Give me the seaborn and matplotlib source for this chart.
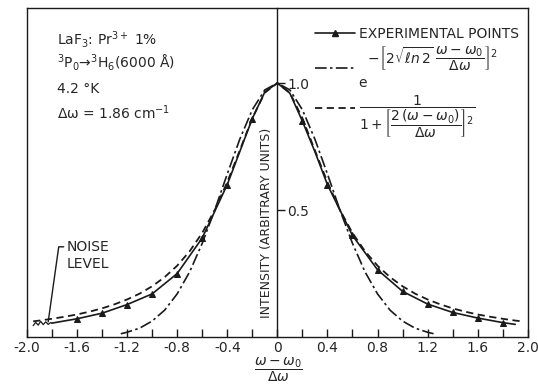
import matplotlib
matplotlib.use("Agg")
import matplotlib.pyplot as plt
from matplotlib.lines import Line2D
import seaborn as sns

# Datos
exp_x = [-1.8, -1.6, -1.4, -1.2, -1.0, -0.8, -0.6, -0.4, -0.3, -0.2, -0.1, 0.0,
         0.1, 0.2, 0.3, 0.4, 0.6, 0.8, 1.0, 1.2, 1.4, 1.6, 1.8, 1.9]
exp_y = [0.055, 0.072, 0.094, 0.128, 0.17, 0.25, 0.39, 0.60, 0.73, 0.86, 0.965, 1.0,
         0.96, 0.85, 0.73, 0.60, 0.40, 0.265, 0.18, 0.13, 0.097, 0.075, 0.057, 0.05]
exp_marks = [1, 2, 3, 4, 5, 6, 7, 9, 13, 15, 16, 17, 18, 19, 20, 21, 22]

gauss_x = [-1.25, -1.2, -1.1, -1.0, -0.9, -0.8, -0.7, -0.6, -0.5, -0.4, -0.3, -0.2, -0.1, 0.0,
           0.1, 0.2, 0.3, 0.4, 0.5, 0.6, 0.7, 0.8, 0.9, 1.0, 1.1, 1.2, 1.25]
gauss_y = [0.013, 0.019, 0.035, 0.063, 0.106, 0.170, 0.257, 0.369, 0.500, 0.642, 0.779, 0.895, 0.973, 1.0,
           0.973, 0.895, 0.779, 0.642, 0.500, 0.369, 0.257, 0.170, 0.106, 0.063, 0.035, 0.019, 0.013]

lor_x = [-1.95, -1.9, -1.8, -1.7, -1.6, -1.5, -1.4, -1.3, -1.2, -1.1, -1.0, -0.9, -0.8, -0.7, -0.6,
         -0.5, -0.4, -0.3, -0.2, -0.1, 0.0, 0.1, 0.2, 0.3, 0.4, 0.5, 0.6, 0.7, 0.8, 0.9, 1.0,
         1.1, 1.2, 1.3, 1.4, 1.5, 1.6, 1.7, 1.8, 1.9, 1.95]
lor_y = [0.062, 0.065, 0.072, 0.080, 0.089, 0.100, 0.113, 0.129, 0.148, 0.171, 0.200, 0.236, 0.281, 0.338, 0.410,
         0.500, 0.610, 0.735, 0.862, 0.962, 1.0, 0.962, 0.862, 0.735, 0.610, 0.500, 0.410, 0.338, 0.281, 0.236, 0.200,
         0.171, 0.148, 0.129, 0.113, 0.100, 0.089, 0.080, 0.072, 0.065, 0.062]

noise_x = [-1.95, -1.93, -1.91, -1.89, -1.87, -1.85, -1.83, -1.81, -1.8]
noise_y = [0.045, 0.058, 0.047, 0.062, 0.049, 0.060, 0.050, 0.057, 0.055]

xtick_vals = [-2.0, -1.8, -1.6, -1.4, -1.2, -1.0, -0.8, -0.6, -0.4, -0.2, 0.0,
              0.2, 0.4, 0.6, 0.8, 1.0, 1.2, 1.4, 1.6, 1.8, 2.0]
xtick_labels = ["-2.0", "", "-1.6", "", "-1.2", "", "-0.8", "", "-0.4", "", "0",
                "", "0.4", "", "0.8", "", "1.2", "", "1.6", "", "2.0"]

# Estilo
sns.set_theme(style="white")
plt.rcParams["font.family"] = ["DejaVu Sans"]
plt.rcParams["mathtext.fontset"] = "dejavusans"

fig = plt.figure(figsize=(5.38, 3.87), dpi=100)
ax = fig.add_axes([0.050, 0.129, 0.931, 0.850])

# Curvas
sns.lineplot(x=lor_x, y=lor_y, color="k", lw=1.3, linestyle=(0, (4, 2.5)), ax=ax)
sns.lineplot(x=gauss_x, y=gauss_y, color="k", lw=1.2, linestyle=(0, (7, 2, 1.5, 2)), ax=ax)
sns.lineplot(x=exp_x, y=exp_y, color="k", lw=1.2, marker="^", markersize=5,
             mec="k", mfc="k", markevery=exp_marks, ax=ax)
sns.lineplot(x=noise_x, y=noise_y, color="k", lw=0.9, sort=False, ax=ax)

ax.set_xlim(-2.0, 2.0)
ax.set_ylim(0, 1.295)

# Ejes y marcas
for s in ax.spines.values():
    s.set_visible(True)
    s.set_color("k")
    s.set_linewidth(1.0)
ax.set_xticks(xtick_vals)
ax.set_xticklabels(xtick_labels, fontsize=10)
ax.tick_params(axis="x", direction="in", length=6, width=1, color="k", pad=3, bottom=True)
ax.set_yticks([])
ax.set_xlabel("")
ax.set_ylabel("")

# Eje vertical central
sec = ax.secondary_yaxis(0.5)
sec.set_yticks([0.5, 1.0])
sec.set_yticklabels(["0.5", "1.0"], fontsize=10)
sec.tick_params(direction="out", length=6, width=1, color="k", pad=1)
sec.spines["right"].set_linewidth(1.0)
sec.spines["right"].set_color("k")
ax.text(-0.09, 0.45, "INTENSITY (ARBITRARY UNITS)", rotation=90, ha="center", va="center", fontsize=9)

# Etiqueta del eje x
fig.text(278 / 538, 1 - 370 / 387, r"$\dfrac{\omega-\omega_0}{\Delta\omega}$", ha="center", va="center", fontsize=10)

# Texto de condiciones
ax.text(0.06, 0.906, r"LaF$_3$: Pr$^{3+}$ 1%", transform=ax.transAxes, va="center", fontsize=10)
ax.text(0.06, 0.833, r"$^3$P$_0$→$^3$H$_6$(6000 Å)", transform=ax.transAxes, va="center", fontsize=10)
ax.text(0.06, 0.754, "4.2 °K", transform=ax.transAxes, va="center", fontsize=10)
ax.text(0.06, 0.681, r"Δω = 1.86 cm$^{-1}$", transform=ax.transAxes, va="center", fontsize=10)

# Nivel de ruido
ax.annotate("NOISE\nLEVEL", xy=(-1.83, 0.06), xytext=(-1.68, 0.382), ha="left", va="top",
            fontsize=10, linespacing=1.25,
            arrowprops=dict(arrowstyle="-", color="k", lw=1, relpos=(0, 0.78),
                            connectionstyle="angle,angleA=180,angleB=82,rad=0",
                            shrinkA=0, shrinkB=0))

# Leyenda
handles = [
    Line2D([], [], color="k", lw=1.2, marker="^", markersize=5),
    Line2D([], [], color="k", lw=1.2, linestyle=(0, (7, 2, 1.5, 2))),
    Line2D([], [], color="k", lw=1.3, linestyle=(0, (4, 2.5))),
]
labels = [
    "EXPERIMENTAL POINTS",
    r"  $-\left[2\sqrt{\ell n\,2}\;\dfrac{\omega-\omega_0}{\Delta\omega}\right]^2$" + "\ne",
    r"$\dfrac{1}{1+\left[\dfrac{2\,(\omega-\omega_0)}{\Delta\omega}\right]^2}$",
]
ax.legend(handles, labels, loc="upper left", bbox_to_anchor=(0.561, 0.965), frameon=False,
          fontsize=10, handlelength=2.9, handletextpad=0.25, labelspacing=0.3, borderpad=0)

fig.savefig("out.png", dpi=100)
